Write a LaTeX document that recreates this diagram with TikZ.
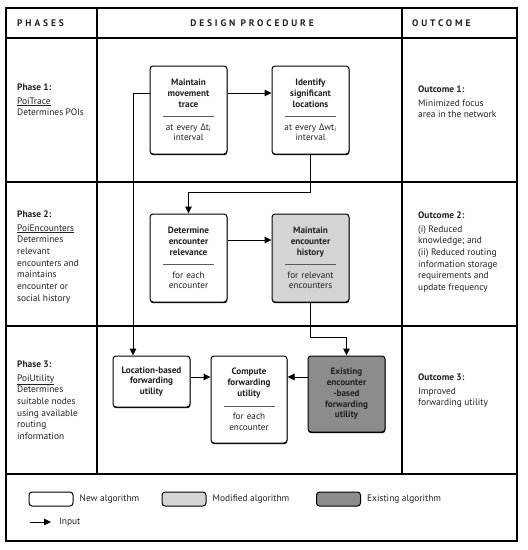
\documentclass[tikz,border=0pt]{standalone}
\usepackage{fontspec}
\setmainfont{PT Sans}
\newfontfamily\greekfont{Open Sans}
\newfontfamily\headfont{PT Sans}[LetterSpace=30]
\usetikzlibrary{arrows.meta,shadows,positioning}
\definecolor{modifiedColor}{RGB}{211,212,212}
\definecolor{existingColor}{RGB}{140,140,140}
\definecolor{textColor}{RGB}{35,31,32}
\definecolor{ruleColor}{RGB}{90,90,90}
\newcommand{\dlt}{{\greekfont Δ}}
\newcommand{\splittext}[2]{{\bfseries #1}\\[-1pt]\textcolor{ruleColor}{\rule{51pt}{0.6pt}}\\[2.5pt]#2}
\tikzset{algo/.style={draw, line width=1pt, rounded corners=3pt, fill=white, text width=74pt, align=center, inner sep=0pt, minimum width=77pt, minimum height=88pt, font=\fontsize{9.2}{10.8}\selectfont, text=textColor, drop shadow={shadow xshift=0.3pt, shadow yshift=-1.2pt, fill=black, opacity=1}}}
\tikzset{modified/.style={algo, fill=modifiedColor}}
\tikzset{existing/.style={algo, fill=existingColor}}
\tikzset{phasetext/.style={anchor=north west, inner sep=0pt, align=left, font=\fontsize{9.4}{11.7}\selectfont, text=textColor}}
\tikzset{header/.style={inner sep=0pt, font=\headfont\bfseries\fontsize{9.5}{11}\selectfont, text=textColor}}
\tikzset{legend/.style={draw, line width=1pt, rounded corners=3pt, minimum width=44pt, minimum height=14pt, inner sep=0pt}}
\tikzset{legendtext/.style={inner sep=0pt, anchor=west, font=\fontsize{9.4}{11}\selectfont, text=textColor}}
\tikzset{input/.style={line width=1pt, -{Triangle[length=7pt, width=6.5pt]}}}

\begin{document}
\begin{tikzpicture}[x=1pt, y=-1pt]
\useasboundingbox (0,0) rectangle (528,550);

% Table
\draw[line width=1.4pt] (6,8) rectangle (517,541);
\draw[line width=1.3pt] (6,38) -- (517,38);
\draw[line width=1.3pt] (6,182) -- (517,182);
\draw[line width=1.3pt] (6,326) -- (517,326);
\draw[line width=1.3pt] (6,474) -- (517,474);
\draw[line width=1.3pt] (97,8) -- (97,474);
\draw[line width=1.3pt] (402,8) -- (402,474);

% Headers
\node (hphases) [header, anchor=west] at (17,23) {PHASES};
\node (hdesign) [header] at (252,23) {DESIGN PROCEDURE};
\node (houtcome) [header, anchor=west] at (412,23) {OUTCOME};

% Phases
\node (phase1) [phasetext] at (17,83.5) {\textbf{Phase 1:}\\[2pt]\underline{PoiTrace}\\Determines POIs};
\node (phase2) [phasetext] at (17,210.5) {\textbf{Phase 2:}\\[2pt]\underline{PoiEncounters}\\Determines\\relevant\\encounters and\\maintains\\encounter or\\social history};
\node (phase3) [phasetext] at (17,360.5) {\textbf{Phase 3:}\\[2pt]\underline{PoiUtility}\\Determines\\suitable nodes\\using available\\routing\\information};

% Outcomes
\node (outcome1) [phasetext] at (418,85.5) {\textbf{Outcome 1:}\\[2pt]Minimized focus\\area in the network};
\node (outcome2) [phasetext] at (418,211.5) {\textbf{Outcome 2:}\\[2pt](i) Reduced\\knowledge; and\\(ii) Reduced routing\\information storage\\requirements and\\update frequency};
\node (outcome3) [phasetext] at (418,373.5) {\textbf{Outcome 3:}\\[2pt]Improved\\forwarding utility};

% Nodes
\node (trace) [algo] at (188.5,110) {\splittext{Maintain\\movement\\trace}{at every \dlt t\textsubscript{i}\\interval}};
\node (locations) [algo] at (310.5,110) {\splittext{Identify\\significant\\locations}{at every \dlt wt\textsubscript{i}\\interval}};
\node (relevance) [algo] at (188.5,258) {\splittext{Determine\\encounter\\relevance}{for each\\encounter}};
\node (history) [modified] at (310.5,258) {\splittext{Maintain\\encounter\\history}{for relevant\\encounters}};
\node (locutil) [algo, minimum height=51pt] at (151.5,381.5) {\textbf{Location-based\\forwarding\\utility}};
\node (compute) [algo, minimum width=76pt, minimum height=87pt] at (249,399.5) {\splittext{Compute\\forwarding\\utility}{for each\\encounter}};
\node (encutil) [existing, minimum height=76pt] at (346.5,394) {\textbf{Existing\\encounter\\-based\\forwarding\\utility}};

% Legend
\node (lgnew) [legend, fill=white] at (51,499) {};
\node (lgnewtext) [legendtext, right=6pt of lgnew] {New algorithm};
\node (lgmod) [legend, fill=modifiedColor] at (184,499) {};
\node (lgmodtext) [legendtext, right=6pt of lgmod] {Modified algorithm};
\node (lgext) [legend, fill=existingColor] at (338.5,499) {};
\node (lgexttext) [legendtext, right=6pt of lgext] {Existing algorithm};
\coordinate (lginA) at (30,522);
\coordinate (lginB) at (51,522);
\node (lgintext) [legendtext] at (59,522) {Input};

% Connectors
\begin{scope}[input]
\draw ([yshift=17pt]trace.east) -- ([yshift=17pt]trace.east -| locations.west);
\draw ([yshift=17pt]trace.west) -| ([xshift=-18.5pt]locutil.north);
\draw (locations.south) -- ++(0,38) -| (relevance.north);
\draw ([yshift=18pt]relevance.east) -- ([yshift=18pt]relevance.east -| history.west);
\draw (history.south) -- ++(0,35) -| (encutil.north);
\draw ([yshift=4.5pt]locutil.east) -- ([yshift=4.5pt]locutil.east -| compute.west);
\draw ([yshift=17pt]encutil.west) -- ([yshift=17pt]encutil.west -| compute.east);
\draw (lginA) -- (lginB);
\end{scope}

\end{tikzpicture}
\end{document}
